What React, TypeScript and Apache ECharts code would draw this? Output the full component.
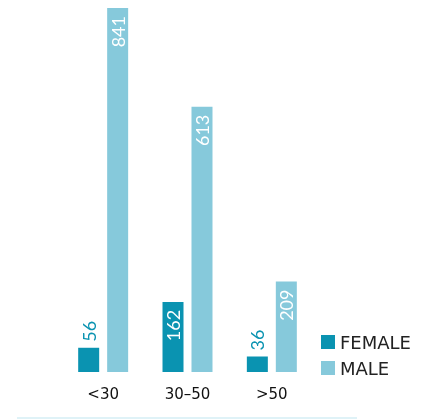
import React, { useEffect, useRef } from "react";
import * as echarts from "echarts";

const ageGroups = ["<30", "30–50", ">50"];
const femaleValues = [56, 162, 36];
const maleValues = [841, 613, 209];

const FEMALE_COLOR = "#0a93b1";
const MALE_COLOR = "#86c9db";
const LABEL_FONT = "Lato, 'Open Sans', sans-serif";
const TEXT_FONT = "'DejaVu Sans', 'Noto Sans', sans-serif";

// Labels sit inside the bar top when the bar is tall enough, otherwise just above it
function barData(values: number[], color: string) {
  return values.map((v) => {
    const inside = v >= 100;
    return {
      value: v,
      label: inside
        ? {
            position: "insideTop" as const,
            align: "right" as const,
            verticalAlign: "middle" as const,
            distance: 8,
            color: "#ffffff",
          }
        : {
            position: "top" as const,
            align: "left" as const,
            verticalAlign: "middle" as const,
            distance: 6,
            color,
          },
    };
  });
}

export default function App() {
  const ref = useRef<HTMLDivElement>(null);

  useEffect(() => {
    if (!ref.current) return;
    const chart = echarts.init(ref.current, null, { renderer: "svg" });
    const commonLabel = {
      show: true,
      rotate: 90,
      fontSize: 18,
      fontFamily: LABEL_FONT,
    };
    chart.setOption({
      animation: false,
      grid: { left: 61, right: 119, top: 8, bottom: 47 },
      legend: {
        orient: "vertical",
        left: 316,
        top: 328,
        itemWidth: 14,
        itemHeight: 14,
        itemGap: 8,
        icon: "rect",
        textStyle: {
          fontSize: 18,
          color: "#222",
          fontFamily: TEXT_FONT,
        },
        data: ["FEMALE", "MALE"],
      },
      xAxis: {
        type: "category",
        data: ageGroups,
        axisLine: { show: false },
        axisTick: { show: false },
        axisLabel: {
          fontSize: 15,
          color: "#111",
          margin: 14,
          fontFamily: TEXT_FONT,
        },
      },
      yAxis: {
        type: "value",
        min: 0,
        max: "dataMax",
        show: false,
        splitLine: { show: false },
      },
      series: [
        {
          name: "FEMALE",
          type: "bar",
          barWidth: 21,
          barGap: "38%",
          itemStyle: { color: FEMALE_COLOR },
          label: commonLabel,
          data: barData(femaleValues, FEMALE_COLOR),
        },
        {
          name: "MALE",
          type: "bar",
          barWidth: 21,
          itemStyle: { color: MALE_COLOR },
          label: commonLabel,
          data: barData(maleValues, MALE_COLOR),
        },
      ],
      graphic: [
        {
          type: "line",
          shape: { x1: 17, y1: 418, x2: 357, y2: 418 },
          style: { stroke: "#dff2f7", lineWidth: 2 },
        },
      ],
    });
    return () => chart.dispose();
  }, []);

  return (
    <div
      ref={ref}
      style={{ position: "fixed", left: 0, top: 0, width: 433, height: 419 }}
    />
  );
}
